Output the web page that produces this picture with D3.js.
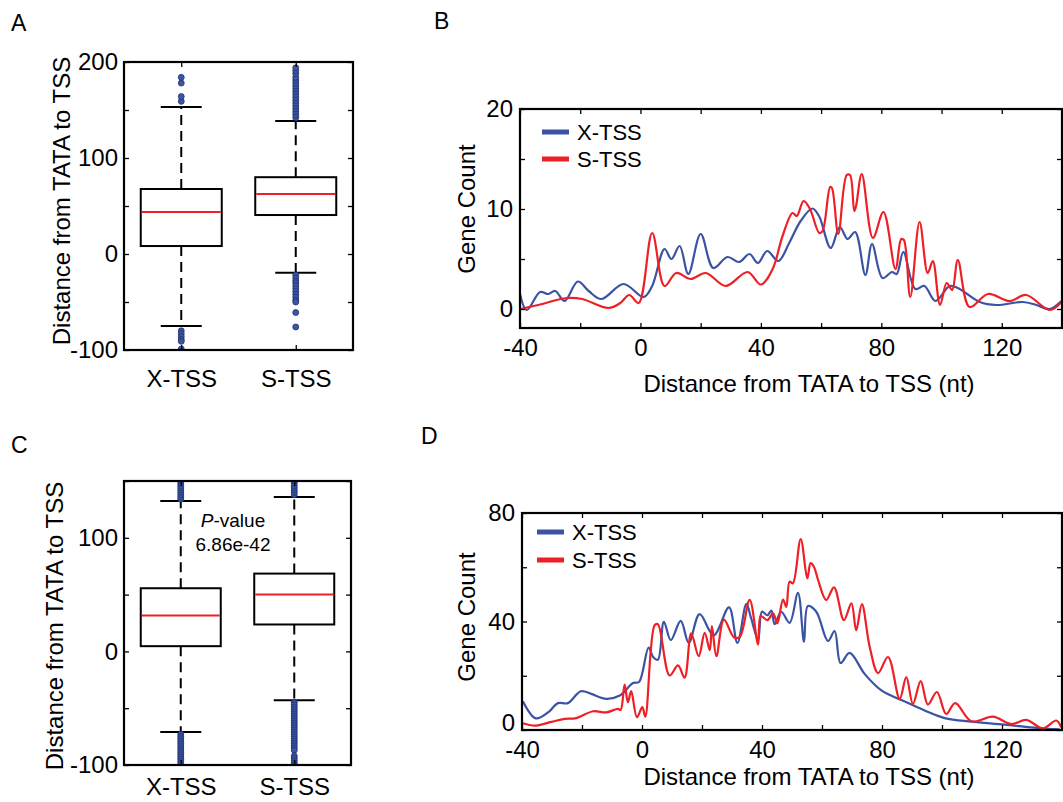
<!DOCTYPE html>
<html>
<head>
<meta charset="utf-8">
<script src="https://cdn.jsdelivr.net/npm/d3@7"></script>
<style>
  body { margin: 0; background: #fff; }
  svg { display: block; }
</style>
</head>
<body>
<svg id="chart" width="1063" height="802"></svg>
<script>
// ---------- data ----------
const categories = ["X-TSS", "S-TSS"];

// box stats per category: [lower whisker, q1, median, q3, upper whisker]
const boxA = [[-75, 8.3, 43.7, 67.7, 153], [-19.5, 40.6, 62.5, 80, 138.5]];
const outliersAX = [159, 164, 178, 184, -80, -83, -86, -89, -91, -99];
const outliersAS = [142, 145, 148, 151, 154, 157, 160, 163, 166, 169, 172, 175, 178, 181, 184, 188, 191, 194,
  -22, -25, -28, -30, -33, -36, -39, -42, -45, -48, -50, -61, -76];

const boxC = [[-71, 4.6, 31.5, 55.6, 132.5], [-43, 23.7, 50, 68.5, 136]];
const outliersCX = [134, 136, 138, 140, 142, 144, 146, 148, 150,
  -73, -75, -77, -79, -81, -83, -85, -87, -89, -91, -93, -95, -97, -99];
const outliersCS = [138, 140, 142, 144, 146, 148, 150,
  -45, -47, -49, -51, -53, -55, -57, -59, -61, -63, -65, -67, -69, -71, -73, -75, -77, -79, -81, -83, -85, -87, -92, -94, -96, -98, -100];
const pValueC = "6.86e-42";

const seriesNames = ["X-TSS", "S-TSS"];
const seriesColors = ["#3a53a4", "#ee1f25"];

// panel B: [distance (nt), gene count]
const bXTSS = [[-40, 1.5], [-37.8, -0.1], [-33.3, 1.7], [-30.6, 1.5], [-28.3, 1.8], [-25.2, 0.8], [-20.8, 2.75],
  [-17.2, 1.8], [-13, 1.0], [-5.6, 2.5], [1.1, 1.2], [3.9, 2.3], [8, 6.0], [10.3, 5.0], [13, 6.3], [15.9, 3.5],
  [20, 7.5], [24.2, 4.1], [28.9, 5.2], [32.8, 4.7], [36.2, 5.5], [39, 4.6], [42.1, 5.8], [45.8, 4.8], [49.4, 6.6],
  [53.2, 8.8], [57.1, 10.05], [59.3, 9.3], [63.2, 6.1], [66.2, 8.2], [68.8, 7.0], [71.3, 7.7], [74.7, 3.4],
  [76.9, 6.5], [80.4, 3.1], [83.5, 3.7], [85.1, 3.5], [87.3, 5.7], [91.3, 2.0], [94.3, 2.3], [98, 0.8],
  [102.7, 2.3], [105.4, 2.1], [112.7, 0.7], [118.2, 0.4], [127, 0.7], [131.5, 0.4], [135.9, 0], [139.8, 0.8]];
const bSTSS = [[-40, 0], [-33.9, 0.4], [-24.4, 1.1], [-19.4, 1.0], [-10.6, 0.1], [-6.7, 0.6], [-3.7, 1.4],
  [-0.6, 0.6], [3.9, 7.6], [8, 2.3], [11.9, 3.6], [16.7, 3.0], [21.7, 3.6], [28.3, 2.3], [35.6, 3.7], [40, 2.45],
  [43.9, 4.0], [47.2, 7.3], [50.5, 9.6], [51.9, 9.3], [54.2, 10.8], [56.3, 10.0], [59.4, 7.6], [60.5, 7.8],
  [63, 12.2], [63.6, 12.1], [65.7, 7.5], [68.5, 13.4], [69.6, 13.4], [71, 9.8], [71.6, 10.3], [73.5, 13.5],
  [77.2, 7.1], [80.7, 9.7], [84.7, 4.0], [86.6, 7.0], [87.5, 6.9], [89.6, 1.2], [92.7, 8.7], [95.4, 3.6],
  [97.1, 4.8], [99.5, 0.4], [101.7, 2.6], [103.5, 1.9], [105.4, 4.9], [109.3, 0.2], [115.4, 1.5], [122.6, 0.8],
  [128.1, 1.4], [135.9, -0.1], [139.8, 0.7]];

// panel D
const dXTSS = [[-39.7, 10.6], [-35.4, 4.3], [-31.3, 6.5], [-28, 9.9], [-24.7, 9.9], [-20.4, 14.3], [-16.9, 13.3],
  [-11.9, 11.5], [-7.4, 12.7], [-3, 17.3], [-1, 17.7], [2.2, 30.4], [3.7, 26.9], [5.3, 25.9], [7.3, 39.9],
  [9.6, 33.1], [12.9, 40.2], [15.6, 32.1], [19.2, 42.7], [23.9, 34.9], [29, 45.2], [31.8, 32.1], [34.8, 46.5],
  [36.4, 41.1], [38.7, 33.3], [40, 43.6], [41.8, 42.3], [43.1, 44], [44.2, 39], [46.4, 43.6], [49.2, 39.5],
  [52, 50.6], [54, 32.5], [55.3, 45.7], [58.1, 43.6], [62, 32.8], [64.2, 36.5], [66.2, 24.7], [69.2, 28.4],
  [74.2, 20.7], [79.8, 14.6], [87.6, 10.5], [94.2, 7.2], [100.9, 4.4], [109.8, 3.1], [120.9, 2.0], [132, 0.7],
  [139.2, 0.2]];
const dSTSS = [[-39.7, 2.5], [-35.8, 1.6], [-30.2, 3], [-25.8, 4.1], [-21.9, 4.4], [-16.3, 6.9], [-11.9, 6.5],
  [-8, 7.8], [-7.1, 7.4], [-5.8, 16.7], [-4.7, 10.2], [-3.6, 14.3], [-1.7, 4.7], [0.1, 8.4], [1.1, 4.9],
  [4.2, 38.6], [5.3, 39], [9.2, 20.1], [12, 23.8], [14.2, 19.3], [16.4, 35.6], [18.9, 27.2], [20.9, 35.8],
  [22.6, 29.4], [23.3, 38.3], [24.8, 27.2], [27.3, 40.7], [30.7, 34.1], [32.6, 34.3], [35.9, 48], [38.7, 31.5],
  [39.6, 42], [41.8, 40.5], [43.7, 43], [45.1, 39.3], [47, 48.1], [48.1, 45.4], [49.2, 54.7], [50.3, 54.1],
  [52.9, 70.4], [55.1, 55.9], [56.2, 61.5], [57.3, 60.2], [58.7, 55.3], [61.4, 47.9], [64, 52.6], [67.3, 40.5],
  [69.8, 46.7], [71.4, 36.8], [73.3, 46.4], [75.9, 30.6], [78.7, 21], [82, 26.9], [85.9, 11.5], [88.1, 19.5],
  [90.3, 9.6], [92.9, 18], [95.3, 9.4], [98.3, 14], [101.4, 5.9], [104.4, 9.9], [109.8, 3.2], [117, 4.9],
  [123.1, 2.2], [128.1, 3.7], [133.7, 0.6], [138.1, 3.5], [139.7, 1]];

const lineXTicks = [-40, -20, 0, 20, 40, 60, 80, 100, 120, 140];
const yTitle = "Distance from TATA to TSS";
const xTitle = "Distance from TATA to TSS (nt)";
const countTitle = "Gene Count";

// ---------- drawing ----------
const FONT = "'Liberation Sans', Arial, Helvetica, sans-serif";
const svg = d3.select("#chart");
svg.append("rect").attr("width", 1063).attr("height", 802).attr("fill", "#fff");

function label(txt, x, y, size, anchor) {
  return svg.append("text")
    .attr("x", x).attr("y", y)
    .attr("font-family", FONT).attr("font-size", size)
    .attr("text-anchor", anchor || "start")
    .text(txt);
}

function vLabel(txt, x, y, size) {
  return svg.append("text")
    .attr("transform", `translate(${x},${y}) rotate(-90)`)
    .attr("font-family", FONT).attr("font-size", size)
    .attr("text-anchor", "middle")
    .text(txt);
}

function styleAxis(sel) {
  sel.select(".domain").remove();
  sel.attr("font-family", FONT).attr("font-size", 24);
  sel.selectAll("line").attr("stroke-width", 1.3);
  sel.selectAll("text").attr("fill", "#000");
}

function frame(p) {
  svg.append("rect")
    .attr("x", p.x0).attr("y", p.y0)
    .attr("width", p.x1 - p.x0).attr("height", p.y1 - p.y0)
    .attr("fill", "none").attr("stroke", "#000").attr("stroke-width", 2.2);
}

function clip(p) {
  svg.append("clipPath").attr("id", "clip" + p.name)
    .append("rect")
    .attr("x", p.x0).attr("y", p.y0)
    .attr("width", p.x1 - p.x0).attr("height", p.y1 - p.y0);
  return svg.append("g").attr("clip-path", `url(#clip${p.name})`);
}

/**
 * box plot panel (A, C)
 */
function boxPanel(p, stats, outliers, yDomain, yTicks) {
  const x = d3.scalePoint().domain(categories).range([p.x0, p.x1]).padding(0.5);
  const y = d3.scaleLinear().domain(yDomain).range([p.y1, p.y0]);
  const plot = clip(p);
  const boxW = p.boxW, capW = p.capW;

  stats.forEach((s, i) => {
    const cx = x(categories[i]);
    // whiskers
    [[s[3], s[4]], [s[1], s[0]]].forEach(w => {
      plot.append("line")
        .attr("x1", cx).attr("x2", cx)
        .attr("y1", y(w[0])).attr("y2", y(w[1]))
        .attr("stroke", "#000").attr("stroke-width", 2)
        .attr("stroke-dasharray", "10,6");
    });
    plot.append("rect")
      .attr("x", cx - boxW / 2).attr("y", y(s[3]))
      .attr("width", boxW).attr("height", y(s[1]) - y(s[3]))
      .attr("fill", "#fff").attr("stroke", "#000").attr("stroke-width", 2);
    plot.append("line")
      .attr("x1", cx - boxW / 2 + 1).attr("x2", cx + boxW / 2 - 1)
      .attr("y1", y(s[2])).attr("y2", y(s[2]))
      .attr("stroke", "#ee1f25").attr("stroke-width", 2);
    [s[0], s[4]].forEach(v => {
      plot.append("line")
        .attr("x1", cx - capW / 2).attr("x2", cx + capW / 2)
        .attr("y1", y(v)).attr("y2", y(v))
        .attr("stroke", "#000").attr("stroke-width", 2);
    });
    plot.selectAll(null).data(outliers[i]).enter()
      .append("circle")
      .attr("cx", cx).attr("cy", d => y(d))
      .attr("r", 3)
      .attr("fill", "#3a56a8").attr("stroke", "#1d2b5e").attr("stroke-width", 0.7);
  });

  svg.append("g").attr("transform", `translate(${p.x0},0)`)
    .call(d3.axisLeft(y).tickValues(yTicks).tickSize(-5).tickPadding(6)
      .tickFormat(d => (d % 100 === 0 ? String(d) : "")))
    .call(styleAxis);
  svg.append("g").attr("transform", `translate(${p.x1},0)`)
    .call(d3.axisRight(y).tickValues(yTicks).tickSize(-5).tickFormat(""))
    .call(styleAxis);
  svg.append("g").attr("transform", `translate(0,${p.y1})`)
    .call(d3.axisBottom(x).tickSize(-5).tickPadding(p.xPad))
    .call(styleAxis);
  svg.append("g").attr("transform", `translate(0,${p.y0})`)
    .call(d3.axisTop(x).tickSize(-5).tickFormat(""))
    .call(styleAxis);
  frame(p);
  return {x, y};
}

/**
 * smoothed line panel (B, D)
 */
function linePanel(p, series, yDomain, yTicks, labelEvery) {
  const x = d3.scaleLinear().domain([-40, 140]).range([p.x0, p.x1]);
  const y = d3.scaleLinear().domain(yDomain).range([p.y1, p.y0]);
  const plot = clip(p);
  const line = d3.line()
    .curve(d3.curveCatmullRom.alpha(0.5))
    .x(d => x(d[0]))
    .y(d => y(d[1]));

  // S-TSS drawn after X-TSS so red sits on top
  series.forEach((s, i) => {
    plot.append("path")
      .attr("d", line(s))
      .attr("fill", "none")
      .attr("stroke", seriesColors[i])
      .attr("stroke-width", 2.2)
      .attr("stroke-linejoin", "round");
  });

  const left = svg.append("g").attr("transform", `translate(${p.x0},0)`)
    .call(d3.axisLeft(y).tickValues(yTicks).tickSize(-5).tickPadding(7)
      .tickFormat(d => (d % labelEvery === 0 ? String(d) : "")))
    .call(styleAxis);
  // the zero label sits a little above its tick in the original
  left.selectAll(".tick").filter(d => d === 0).select("text")
    .attr("dy", p.zeroDy);
  svg.append("g").attr("transform", `translate(${p.x1},0)`)
    .call(d3.axisRight(y).tickValues(yTicks).tickSize(-5).tickFormat(""))
    .call(styleAxis);
  svg.append("g").attr("transform", `translate(0,${p.y1})`)
    .call(d3.axisBottom(x).tickValues(lineXTicks).tickSize(-5).tickPadding(p.xPad)
      .tickFormat(d => (d % 40 === 0 ? String(d) : "")))
    .call(styleAxis);
  svg.append("g").attr("transform", `translate(0,${p.y0})`)
    .call(d3.axisTop(x).tickValues(lineXTicks).tickSize(-5).tickFormat(""))
    .call(styleAxis);
  frame(p);

  // legend
  seriesNames.forEach((n, i) => {
    const ly = p.legY + i * p.legStep;
    svg.append("line")
      .attr("x1", p.legX).attr("x2", p.legX + 27)
      .attr("y1", ly).attr("y2", ly)
      .attr("stroke", seriesColors[i]).attr("stroke-width", 5);
    label(n, p.legX + 35, ly + 8, 22);
  });
}

// panel layouts
const pA = {name: "A", x0: 124, x1: 353, y0: 62, y1: 350, boxW: 81, capW: 41, xPad: 20};
const pC = {name: "C", x0: 124, x1: 351, y0: 481, y1: 765, boxW: 80, capW: 41, xPad: 13};
const pB = {name: "B", x0: 520, x1: 1062, y0: 109, y1: 328, xPad: 11, zeroDy: "0.32em",
  legX: 542, legY: 132, legStep: 27};
const pD = {name: "D", x0: 522, x1: 1062, y0: 513, y1: 730, xPad: 11, zeroDy: "0.02em",
  legX: 537, legY: 532, legStep: 28};

boxPanel(pA, boxA, [outliersAX, outliersAS], [-100, 200], [-100, -50, 0, 50, 100, 150, 200]);
boxPanel(pC, boxC, [outliersCX, outliersCS], [-100, 150], [-100, -50, 0, 50, 100, 150]);
linePanel(pB, [bXTSS, bSTSS], [-1.9, 20], [0, 5, 10, 15, 20], 10);
linePanel(pD, [dXTSS, dSTSS], [0, 80], [0, 20, 40, 60, 80], 40);

// p-value note in C
const pv = svg.append("text")
  .attr("x", 233).attr("y", 527)
  .attr("font-family", FONT).attr("font-size", 19)
  .attr("text-anchor", "middle");
pv.append("tspan").attr("font-style", "italic").text("P");
pv.append("tspan").text("-value");
label(pValueC, 233, 551, 19, "middle");

// axis titles
vLabel(yTitle, 70, 201, 24);
vLabel(yTitle, 63, 626, 24);
vLabel(countTitle, 475, 209, 24);
vLabel(countTitle, 475, 617, 24);
label(xTitle, 809, 392, 24, "middle");
label(xTitle, 809, 785, 24, "middle");

// panel letters
label("A", 11, 31, 23);
label("B", 434, 29, 23);
label("C", 11, 453, 23);
label("D", 421, 444, 23);
</script>
</body>
</html>
